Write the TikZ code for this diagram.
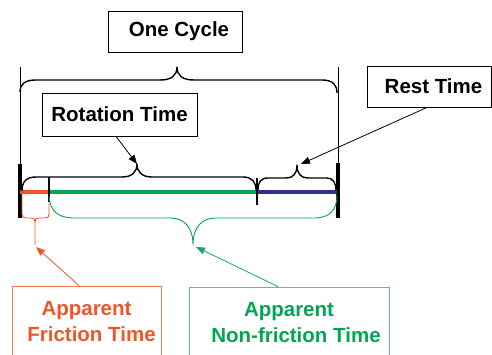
\documentclass[tikz,border=0pt]{standalone}
\usepackage{fontspec}
\setmainfont{Liberation Sans}
\usetikzlibrary{arrows.meta,calc}

\definecolor{fricRed}{RGB}{240,85,40}
\definecolor{ncGreen}{RGB}{0,166,81}
\definecolor{ncArrow}{RGB}{20,168,115}
\definecolor{restBlue}{RGB}{46,49,146}

\tikzset{
  labelbox/.style={draw=black, line width=0.9pt, inner sep=0pt,
    font=\fontsize{20.5}{27}\selectfont\bfseries, align=center},
  fricbox/.style={labelbox, draw=fricRed!80, text=fricRed},
  ncbox/.style={labelbox, draw=ncGreen!65, text=ncGreen},
  brace/.style={line width=1.4pt, line join=round},
  thinbar/.style={line width=0.9pt},
  thickbar/.style={line width=3.4pt},
  tick/.style={line width=2.8pt},
  segment/.style={line width=4pt},
  pointer/.style={line width=0.8pt, -{Triangle[length=9pt,width=7pt]}},
}

\begin{document}
\begin{tikzpicture}[x=1pt,y=-1pt]
\useasboundingbox (0,0) rectangle (492,355);
\clip (0,0) rectangle (492,355);

% label boxes
\node[labelbox, minimum width=134pt, minimum height=41pt] (cycle) at (175,31.5)
  {\hspace*{8pt}One Cycle};
\node[labelbox, minimum width=155pt, minimum height=43pt] (rot) at (119.5,114.5)
  {Rotation Time};
\node[labelbox, minimum width=124pt, minimum height=41pt] (rest) at (429.5,86.5)
  {\hspace*{8pt}Rest Time};
\node[fricbox, minimum width=149pt, minimum height=74pt] (fric) at (86.5,323)
  {\raisebox{3pt}{\begin{tabular}{@{}c@{}}Apparent\\[-1pt]\hspace*{10pt}Friction Time\end{tabular}}};
\node[ncbox, minimum width=200pt, minimum height=74pt] (nonfric) at (289,324)
  {\raisebox{4pt}{\begin{tabular}{@{}c@{}}Apparent\\[-1pt]\hspace*{14pt}Non-friction Time\end{tabular}}};

% brace tips
\coordinate (rottip) at (137,164);
\coordinate (resttip) at (301,164);
\coordinate (frictip) at (36,247);
\coordinate (nctip) at (196,247);

% cycle boundaries
\draw[thinbar] (20,67) -- (20,165);
\draw[thickbar] (20,164) -- (20,218);
\draw[thinbar] (338,67) -- (338,165);
\draw[thickbar] (338,163) -- (338,218);

% time segments
\draw[segment, fricRed] (20,192) -- (49,192);
\draw[segment, ncGreen] (49,192) -- (257,192);
\draw[segment, restBlue] (257,192) -- (337,192);
\draw[tick] (49,177) -- (49,202);
\draw[tick] (257,178) -- (257,205);

% one cycle brace
\draw[brace] (20,92) .. controls (20,84) and (25,80) .. (36,80) -- (160,80)
  .. controls (171,80) and (177,76) .. (177,67)
  .. controls (177,76) and (183,80) .. (194,80) -- (322,80)
  .. controls (333,80) and (337,85) .. (337,93);

% rotation brace
\draw[brace] (22,191) .. controls (22,182) and (26,177) .. (36,177) -- (122,177)
  .. controls (132,177) and (137,172) .. (137,164)
  .. controls (137,172) and (142,177) .. (152,177) -- (243,177)
  .. controls (252,177) and (256,182) .. (256,190);

% rest brace
\draw[brace] (258,190) .. controls (258,182) and (261,178) .. (268,178) -- (286,178)
  .. controls (293,178) and (297,174) .. (297,165)
  .. controls (297,174) and (301,178) .. (308,178) -- (327,178)
  .. controls (333,178) and (336,183) .. (336,190);

% apparent friction brace
\draw[fricRed, line width=0.9pt] (22,194) -- (22,214)
  .. controls (22,217) and (23,218) .. (26,218) -- (31,218)
  .. controls (34,218) and (35,219) .. (35,222) -- (35,245);
\draw[fricRed, line width=0.9pt] (35,222)
  .. controls (35,219) and (36,218) .. (39,218) -- (45,218)
  .. controls (48,218) and (49,217) .. (49,214) -- (49,203);

% apparent non-friction brace
\draw[ncGreen, line width=0.9pt] (49,196) .. controls (50,211) and (58,218) .. (74,218) -- (170,218)
  .. controls (185,218) and (193,228) .. (193,245)
  .. controls (193,228) and (201,218) .. (216,218) -- (314,218)
  .. controls (330,218) and (337,210) .. (337,195);

% pointers
\draw[pointer] ([xshift=-3.5pt]rot.south) -- (rottip);
\draw[pointer] ([xshift=-2.5pt]rest.south) -- (resttip);
\draw[pointer, fricRed] ([xshift=-7.5pt]fric.north) -- (frictip);
\draw[pointer, ncArrow] ([xshift=-11pt]nonfric.north) -- (nctip);
\end{tikzpicture}
\end{document}
